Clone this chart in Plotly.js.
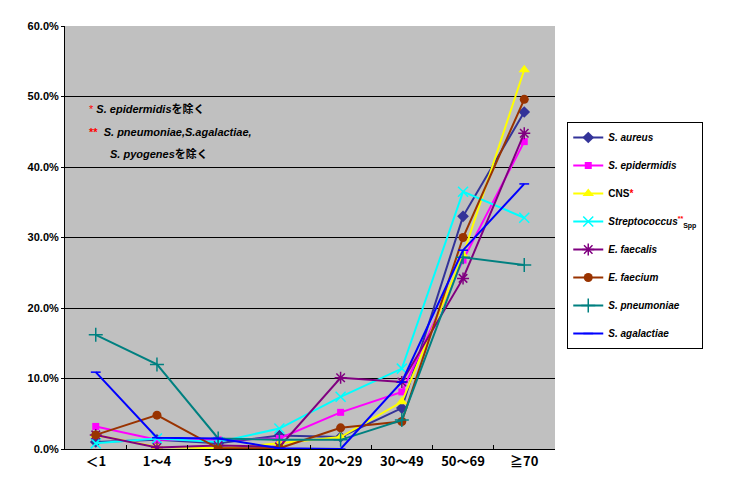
<!DOCTYPE html>
<html>
<head>
<meta charset="utf-8">
<script src="https://cdn.plot.ly/plotly-3.0.1.min.js"></script>
<style>
  html, body { margin: 0; padding: 0; background: #ffffff; }
  #chart { width: 731px; height: 493px; }
</style>
</head>
<body>
<div id="chart"></div>
<script>
const ageGroups = ['＜1', '1～4', '5～9', '10～19', '20～29', '30～49', '50～69', '≧70'];

const sAureus       = [1.0, 1.3, 0.8, 1.9, 1.7, 5.8, 33.0, 47.8];
const sEpidermidis  = [3.2, 1.3, 1.3, 1.5, 5.2, 8.1, 26.8, 43.6];
const cns           = [2.0, 0.3, 0.1, 0.8, 1.7, 6.7, 27.5, 53.8];
const streptococcus = [0.8, 1.5, 1.0, 2.9, 7.4, 11.4, 36.5, 32.8];
const eFaecalis     = [2.0, 0.2, 0.5, 0.3, 10.1, 9.5, 24.2, 44.8];
const eFaecium      = [2.0, 4.8, 0.1, 0.1, 3.0, 3.9, 30.0, 49.6];
const sPneumoniae   = [16.2, 12.0, 1.5, 1.3, 1.3, 4.1, 27.2, 26.1];
const sAgalactiae   = [10.9, 1.6, 1.5, 0.1, 0.0, 9.5, 28.2, 37.6];

function pct(arr) { return arr.map(v => v / 100); }

const series = [
  {name: '<b><i>S. aureus</i></b>', y: sAureus, color: '#333399', symbol: 'diamond', size: 9},
  {name: '<b><i>S. epidermidis</i></b>', y: sEpidermidis, color: '#ff00ff', symbol: 'square', size: 7},
  {name: '<b>CNS</b><span style="color:#ff0000"><b>*</b></span>', y: cns, color: '#ffff00', symbol: 'triangle-up', size: 10},
  {name: '<b><i>Streptococcus</i></b><sup><span style="color:#ff0000"><b>**</b></span></sup><sub><b>Spp</b></sub>', y: streptococcus, color: '#00ffff', symbol: 'x-thin-open', size: 10},
  {name: '<b><i>E. faecalis</i></b>', y: eFaecalis, color: '#800080', symbol: 'asterisk-open', size: 10},
  {name: '<b><i>E. faecium</i></b>', y: eFaecium, color: '#993300', symbol: 'circle', size: 9},
  {name: '<b><i>S. pneumoniae</i></b>', y: sPneumoniae, color: '#008080', symbol: 'cross-thin-open', size: 10},
  {name: '<b><i>S. agalactiae</i></b>', y: sAgalactiae, color: '#0000ff', symbol: 'line-ew-open', size: 7}
];

const traces = series.map((s, i) => ({
  x: ageGroups,
  y: pct(s.y),
  name: s.name,
  legendgroup: 'g' + i,
  type: 'scatter',
  mode: 'lines+markers',
  line: {color: s.color, width: 2},
  marker: {
    color: s.color,
    symbol: s.symbol,
    size: s.size,
    line: {color: s.color, width: s.symbol.endsWith('open') ? 1.5 : 0}
  }
}));

const noteFont = {family: '"Liberation Sans", "Noto Sans CJK JP", sans-serif', size: 11, color: '#000000'};

const layout = {
  width: 731,
  height: 493,
  paper_bgcolor: '#ffffff',
  plot_bgcolor: '#c0c0c0',
  margin: {t: 26, b: 44, l: 65, r: 176},
  font: {family: '"Noto Sans CJK JP", "Liberation Sans", sans-serif', color: '#000000', size: 11},
  showlegend: true,
  legend: {
    x: 1.025, xanchor: 'left',
    y: 0.773, yanchor: 'top',
    bgcolor: '#ffffff',
    bordercolor: '#000000',
    borderwidth: 1,
    tracegroupgap: 9,
    font: {family: '"Liberation Sans", Arial, sans-serif', size: 10, color: '#000000'}
  },
  xaxis: {
    type: 'category',
    showline: true,
    linecolor: '#000000',
    linewidth: 1,
    ticks: 'inside',
    tickson: 'boundaries',
    ticklen: 4,
    tickcolor: '#000000',
    showgrid: false,
    zeroline: false,
    tickfont: {family: '"Noto Sans CJK JP", sans-serif', size: 13, color: '#000000', weight: 'bold'}
  },
  yaxis: {
    range: [0, 0.6],
    dtick: 0.1,
    tickformat: '.1%',
    showline: true,
    linecolor: '#000000',
    linewidth: 1,
    ticks: 'outside',
    ticklen: 3,
    tickcolor: '#000000',
    showgrid: true,
    gridcolor: '#000000',
    gridwidth: 1,
    zeroline: false,
    tickfont: {family: '"Liberation Sans", Arial, sans-serif', size: 11, color: '#000000', weight: 'bold'}
  },
  annotations: [
    {
      xref: 'paper', yref: 'paper', x: 0.045, y: 0.803, xanchor: 'left', yanchor: 'middle',
      showarrow: false, align: 'left',
      text: '<span style="color:#ff0000">*</span> <b><i>S. epidermidis</i>を除く</b>',
      font: noteFont
    },
    {
      xref: 'paper', yref: 'paper', x: 0.045, y: 0.749, xanchor: 'left', yanchor: 'middle',
      showarrow: false, align: 'left',
      text: '<span style="color:#ff0000"><b>**</b></span>  <b><i>S. pneumoniae,S.agalactiae,</i></b>',
      font: noteFont
    },
    {
      xref: 'paper', yref: 'paper', x: 0.088, y: 0.697, xanchor: 'left', yanchor: 'middle',
      showarrow: false, align: 'left',
      text: '<b><i>S. pyogenes</i>を除く</b>',
      font: noteFont
    }
  ]
};

Plotly.newPlot('chart', traces, layout, {displayModeBar: false, staticPlot: true});
</script>
</body>
</html>
